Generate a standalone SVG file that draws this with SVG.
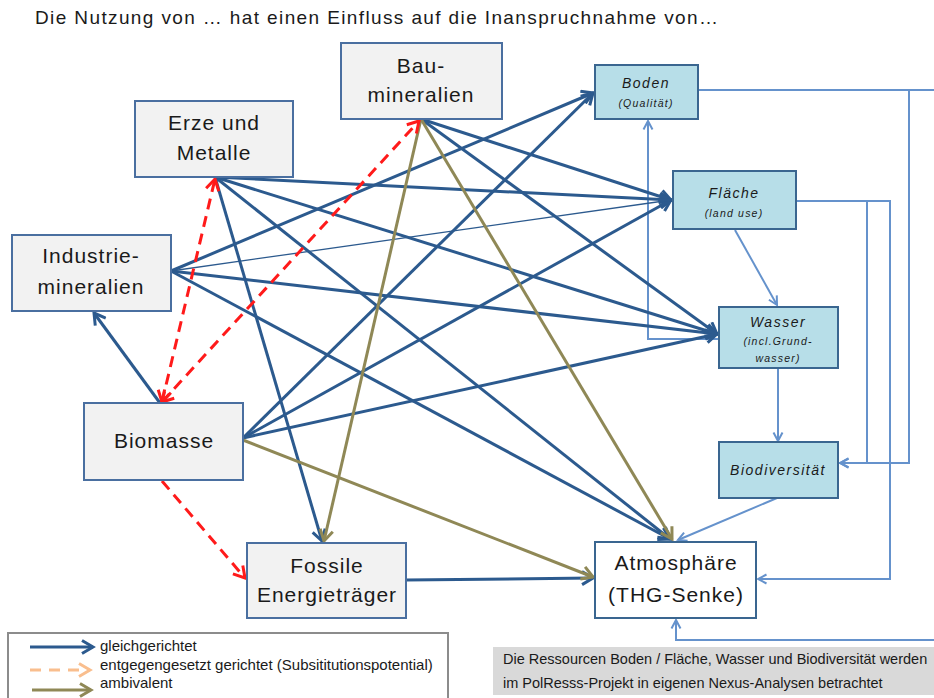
<svg xmlns="http://www.w3.org/2000/svg" width="934" height="698" viewBox="0 0 934 698">
<style>
  .t { font-family: "Liberation Sans", Arial, sans-serif; fill: #1a1a1a; }
  .big { font-size: 21px; letter-spacing: 1px; text-anchor: middle; }
  .it { font-style: italic; text-anchor: middle; }
  .lab { font-size: 14px; letter-spacing: 1.5px; }
  .sub { font-size: 10.5px; letter-spacing: 1.2px; }
  .gn { fill: #f2f2f2; stroke: #4a6fa0; stroke-width: 2; }
  .bn { fill: #b7dee8; stroke: #3a6690; stroke-width: 2; }
  .wn { fill: #ffffff; stroke: #3a6690; stroke-width: 2; }
  .db { fill: none; stroke: #2c5a8e; stroke-width: 3; marker-end: url(#aBlue); }
  .ol { fill: none; stroke: #8f8856; stroke-width: 3; marker-end: url(#aOlive); }
  .rd { fill: none; stroke: #ff1a1a; stroke-width: 3; stroke-dasharray: 11 7; }
  .lb { fill: none; stroke: #6592cc; stroke-width: 2; marker-end: url(#aLight); }
</style>
<defs>
  <marker id="aBlue" markerUnits="userSpaceOnUse" viewBox="0 0 16 16" refX="13" refY="8" markerWidth="16" markerHeight="16" orient="auto">
    <path d="M2,1.5 L13,8 L2,14.5" fill="none" stroke="#2c5a8e" stroke-width="3"/>
  </marker>
  <marker id="aOlive" markerUnits="userSpaceOnUse" viewBox="0 0 16 16" refX="13" refY="8" markerWidth="16" markerHeight="16" orient="auto">
    <path d="M2,1.5 L13,8 L2,14.5" fill="none" stroke="#8f8856" stroke-width="3"/>
  </marker>
  <marker id="aRed" markerUnits="userSpaceOnUse" viewBox="0 0 16 16" refX="13" refY="8" markerWidth="16" markerHeight="16" orient="auto-start-reverse">
    <path d="M2,1.5 L13,8 L2,14.5" fill="none" stroke="#ff1a1a" stroke-width="3"/>
  </marker>
  <marker id="aOrange" markerUnits="userSpaceOnUse" viewBox="0 0 16 16" refX="13" refY="8" markerWidth="16" markerHeight="16" orient="auto">
    <path d="M2,1.5 L13,8 L2,14.5" fill="none" stroke="#f9be8e" stroke-width="3"/>
  </marker>
  <marker id="aLight" markerUnits="userSpaceOnUse" viewBox="0 0 12 12" refX="10" refY="6" markerWidth="12" markerHeight="12" orient="auto">
    <path d="M1.5,1.5 L10,6 L1.5,10.5" fill="none" stroke="#6592cc" stroke-width="2"/>
  </marker>
</defs>
<rect width="934" height="698" fill="#ffffff"/>

<text class="t" x="35" y="24" font-size="19" textLength="683">Die Nutzung von … hat einen Einfluss auf die Inanspruchnahme von…</text>

<g id="connectors">
  <!-- light blue resource links -->
  <path class="lb" d="M719,339 H648 V121"/>
  <path class="lb" d="M735,230 L777,305"/>
  <path class="lb" d="M778,368 V441"/>
  <path class="lb" d="M777,498 L678,540"/>
  <path class="lb" d="M698,90 H909 V463 H840"/>
  <path class="lb" d="M796,201 H867 V463 H840"/>
  <path class="lb" d="M796,201 H890 V579 H758"/>
  <path class="lb" d="M698,90 H945 V640 H676 V620"/>

  <!-- dark blue: gleichgerichtet -->
  <path class="db" d="M215,177 L671,200"/>
  <path class="db" d="M215,177 L717,334"/>
  <path class="db" d="M215,177 L670,539"/>
  <path class="db" d="M215,177 L322,541"/>
  <path class="db" d="M421,119 L671,200"/>
  <path class="db" d="M421,119 L717,334"/>
  <path class="db" d="M171,271 L593,93"/>
  <path class="db" d="M171,271 L671,200" style="stroke-width:1.3"/>
  <path class="db" d="M171,271 L717,334"/>
  <path class="db" d="M171,271 L670,539"/>
  <path class="db" d="M243,438 L593,93"/>
  <path class="db" d="M243,438 L671,200"/>
  <path class="db" d="M243,438 L717,334"/>
  <path class="db" d="M160,403 L94,313"/>
  <path class="db" d="M406,580 L593,578"/>

  <!-- olive: ambivalent -->
  <path class="ol" d="M421,119 L324,541"/>
  <path class="ol" d="M421,119 L672,539"/>
  <path class="ol" d="M243,440 L593,577"/>

  <!-- red dashed: entgegengesetzt -->
  <path class="rd" d="M162,402 L215,179" marker-start="url(#aRed)" marker-end="url(#aRed)"/>
  <path class="rd" d="M162,402 L419,121" marker-start="url(#aRed)" marker-end="url(#aRed)"/>
  <path class="rd" d="M162,481 L245,578" marker-end="url(#aRed)"/>
</g>

<g id="bau">
  <rect class="gn" x="341" y="43" width="161" height="76"/>
  <text class="t big" x="421" y="73">Bau-</text>
  <text class="t big" x="421" y="102">mineralien</text>
</g>
<g id="erze">
  <rect class="gn" x="135" y="101" width="158" height="76"/>
  <text class="t big" x="214" y="130">Erze und</text>
  <text class="t big" x="214" y="160">Metalle</text>
</g>
<g id="industrie">
  <rect class="gn" x="12" y="235" width="159" height="76"/>
  <text class="t big" x="91" y="263">Industrie-</text>
  <text class="t big" x="91" y="294">mineralien</text>
</g>
<g id="biomasse">
  <rect class="gn" x="84" y="403" width="159" height="77"/>
  <text class="t big" x="164" y="448">Biomasse</text>
</g>
<g id="fossile">
  <rect class="gn" x="247" y="543" width="159" height="75"/>
  <text class="t big" x="327" y="573">Fossile</text>
  <text class="t big" x="327" y="602">Energieträger</text>
</g>
<g id="atmosphaere">
  <rect class="wn" x="595" y="542" width="161" height="76"/>
  <text class="t big" x="676" y="570">Atmosphäre</text>
  <text class="t big" x="676" y="602">(THG-Senke)</text>
</g>
<g id="boden">
  <rect class="bn" x="595" y="65" width="103" height="54"/>
  <text class="t it lab" x="646" y="88">Boden</text>
  <text class="t it sub" x="646" y="107">(Qualität)</text>
</g>
<g id="flaeche">
  <rect class="bn" x="673" y="171" width="123" height="58"/>
  <text class="t it lab" x="734" y="198">Fläche</text>
  <text class="t it sub" x="734" y="217">(land use)</text>
</g>
<g id="wasser">
  <rect class="bn" x="719" y="307" width="119" height="61"/>
  <text class="t it lab" x="778" y="327">Wasser</text>
  <text class="t it sub" x="778" y="345">(incl.Grund-</text>
  <text class="t it sub" x="778" y="362">wasser)</text>
</g>
<g id="biodiversitaet">
  <rect class="bn" x="719" y="442" width="119" height="56"/>
  <text class="t it lab" x="778" y="475">Biodiversität</text>
</g>

<g id="note">
  <rect x="493" y="647" width="445" height="48" fill="#d9d9d9"/>
  <text class="t" x="503" y="664" font-size="14.5">Die Ressourcen  Boden / Fläche, Wasser und Biodiversität werden</text>
  <text class="t" x="503" y="688" font-size="14.5">im PolResss-Projekt in eigenen Nexus-Analysen betrachtet</text>
</g>

<g id="legend">
  <rect x="8" y="633" width="440" height="72" fill="#ffffff" stroke="#8c8c8c" stroke-width="2"/>
  <path d="M30,647 H93" fill="none" stroke="#2c5a8e" stroke-width="3" marker-end="url(#aBlue)"/>
  <text class="t" x="100" y="651" font-size="15">gleichgerichtet</text>
  <path d="M30,670 H90" fill="none" stroke="#f9be8e" stroke-width="3" stroke-dasharray="11 8" marker-end="url(#aOrange)"/>
  <text class="t" x="100" y="670" font-size="15">entgegengesetzt gerichtet (Subsititutionspotential)</text>
  <path d="M32,690 H91" fill="none" stroke="#8f8856" stroke-width="3" marker-end="url(#aOlive)"/>
  <text class="t" x="100" y="688" font-size="15">ambivalent</text>
</g>
</svg>
